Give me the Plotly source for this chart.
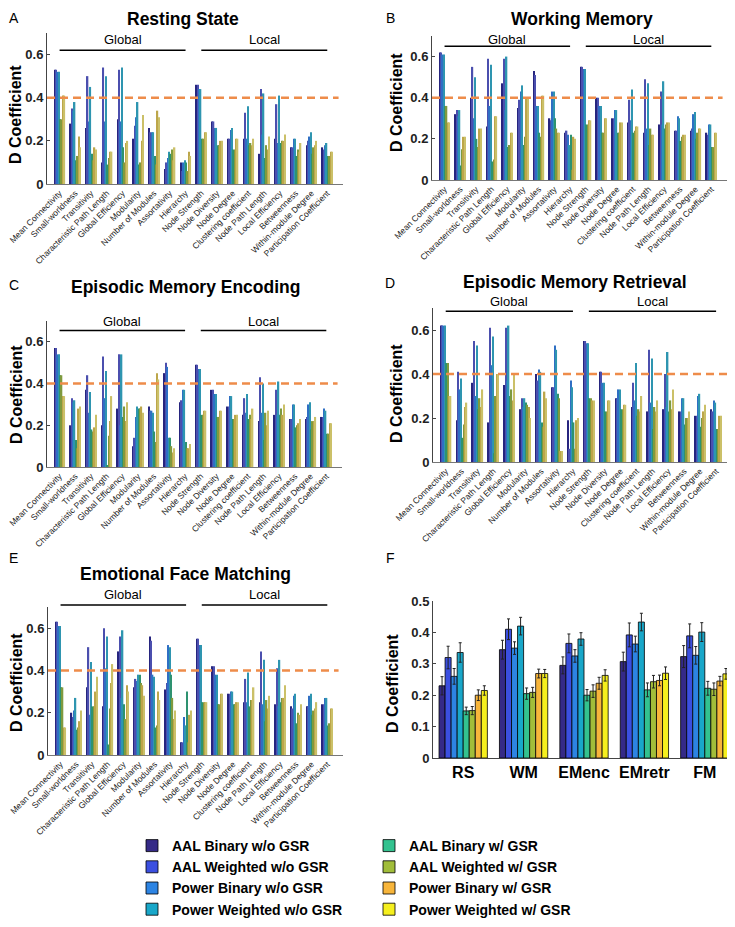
import plotly.graph_objects as go

W, H = 735, 927
# the page body keeps its default 8px margin, so the figure is drawn 8px in from the corner
OX, OY = 8, 8
FW, FH = W - OX, H - OY

metrics = ['Mean Connectivity', 'Small-worldness', 'Transitivity', 'Characteristic Path Length',
           'Global Efficiency', 'Modularity', 'Number of Modules', 'Assortativity', 'Hierarchy',
           'Node Strength', 'Node Diversity', 'Node Degree', 'Clustering coefficient',
           'Node Path Length', 'Local Efficiency', 'Betweenness', 'Within-module Degree',
           'Participation Coefficient']
n_global = 9

series = ['AAL Binary w/o GSR', 'AAL Weighted w/o GSR', 'Power Binary w/o GSR', 'Power Weighted w/o GSR',
          'AAL Binary w/ GSR', 'AAL Weighted w/ GSR', 'Power Binary w/ GSR', 'Power Weighted w/ GSR']

# one row per metric, 8 values per row (series order as above)
rs_values = [
    [0.53, 0.53, 0.52, 0.52, 0.30, 0.30, 0.41, 0.41],
    [0.28, 0.35, 0.34, 0.38, 0.11, 0.13, 0.22, 0.17],
    [0.26, 0.50, 0.29, 0.45, 0.14, 0.11, 0.17, 0.16],
    [0.10, 0.54, 0.29, 0.50, 0.09, 0.12, 0.15, 0.15],
    [0.30, 0.53, 0.29, 0.54, 0.17, 0.10, 0.19, 0.20],
    [0.21, 0.27, 0.31, 0.38, 0.09, 0.10, 0.20, 0.32],
    [0.26, 0.24, 0.24, 0.24, 0.13, 0.09, 0.34, 0.31],
    [0.07, 0.10, 0.12, 0.15, 0.14, 0.16, 0.11, 0.17],
    [0.10, 0.06, 0.10, 0.11, 0.10, 0.06, 0.15, 0.13],
    [0.46, 0.46, 0.44, 0.44, 0.21, 0.21, 0.24, 0.24],
    [0.29, 0.29, 0.26, 0.26, 0.18, 0.18, 0.20, 0.20],
    [0.21, 0.21, 0.25, 0.26, 0.16, 0.16, 0.21, 0.21],
    [0.21, 0.33, 0.21, 0.36, 0.18, 0.19, 0.18, 0.21],
    [0.14, 0.44, 0.23, 0.42, 0.12, 0.18, 0.16, 0.22],
    [0.21, 0.37, 0.19, 0.41, 0.19, 0.20, 0.20, 0.23],
    [0.17, 0.17, 0.21, 0.21, 0.13, 0.16, 0.15, 0.19],
    [0.18, 0.20, 0.22, 0.24, 0.14, 0.17, 0.18, 0.20],
    [0.17, 0.16, 0.18, 0.19, 0.13, 0.13, 0.15, 0.15],
]

wm_values = [
    [0.62, 0.62, 0.61, 0.61, 0.36, 0.36, 0.28, 0.28],
    [0.32, 0.34, 0.31, 0.34, 0.07, 0.15, 0.21, 0.21],
    [0.40, 0.55, 0.30, 0.50, 0.20, 0.16, 0.25, 0.25],
    [0.26, 0.59, 0.36, 0.56, 0.09, 0.10, 0.31, 0.31],
    [0.47, 0.59, 0.34, 0.60, 0.16, 0.17, 0.23, 0.23],
    [0.35, 0.39, 0.43, 0.46, 0.17, 0.21, 0.40, 0.40],
    [0.53, 0.51, 0.36, 0.36, 0.23, 0.21, 0.41, 0.41],
    [0.30, 0.29, 0.43, 0.43, 0.30, 0.25, 0.23, 0.23],
    [0.23, 0.24, 0.22, 0.17, 0.22, 0.05, 0.21, 0.20],
    [0.55, 0.55, 0.54, 0.54, 0.27, 0.27, 0.29, 0.29],
    [0.40, 0.40, 0.36, 0.36, 0.23, 0.23, 0.30, 0.30],
    [0.30, 0.30, 0.34, 0.34, 0.23, 0.23, 0.28, 0.28],
    [0.28, 0.39, 0.29, 0.44, 0.23, 0.24, 0.26, 0.26],
    [0.23, 0.49, 0.25, 0.47, 0.17, 0.25, 0.22, 0.22],
    [0.27, 0.43, 0.27, 0.48, 0.25, 0.27, 0.28, 0.28],
    [0.24, 0.24, 0.31, 0.30, 0.19, 0.21, 0.22, 0.22],
    [0.24, 0.25, 0.32, 0.33, 0.20, 0.23, 0.25, 0.25],
    [0.23, 0.22, 0.27, 0.27, 0.16, 0.16, 0.23, 0.23],
]

emenc_values = [
    [0.57, 0.57, 0.54, 0.54, 0.44, 0.44, 0.34, 0.34],
    [0.20, 0.33, 0.31, 0.32, 0.13, 0.09, 0.28, 0.29],
    [0.37, 0.44, 0.26, 0.36, 0.18, 0.17, 0.19, 0.25],
    [0.20, 0.53, 0.33, 0.46, 0.01, 0.15, 0.22, 0.34],
    [0.28, 0.54, 0.20, 0.54, 0.24, 0.29, 0.22, 0.31],
    [0.10, 0.14, 0.24, 0.29, 0.28, 0.28, 0.29, 0.26],
    [0.29, 0.27, 0.27, 0.26, 0.17, 0.12, 0.45, 0.42],
    [0.45, 0.50, 0.48, 0.14, 0.14, 0.10, 0.07, 0.09],
    [0.31, 0.32, 0.37, 0.37, 0.12, 0.09, 0.09, 0.11],
    [0.49, 0.49, 0.47, 0.47, 0.25, 0.25, 0.27, 0.27],
    [0.37, 0.37, 0.35, 0.35, 0.24, 0.24, 0.27, 0.27],
    [0.29, 0.29, 0.34, 0.34, 0.23, 0.23, 0.25, 0.25],
    [0.25, 0.33, 0.26, 0.35, 0.23, 0.25, 0.23, 0.28],
    [0.22, 0.43, 0.26, 0.40, 0.13, 0.26, 0.20, 0.27],
    [0.25, 0.37, 0.25, 0.41, 0.25, 0.28, 0.25, 0.30],
    [0.23, 0.23, 0.30, 0.30, 0.19, 0.20, 0.21, 0.23],
    [0.23, 0.24, 0.30, 0.31, 0.18, 0.22, 0.22, 0.24],
    [0.24, 0.24, 0.28, 0.27, 0.16, 0.16, 0.21, 0.21],
]

emretr_values = [
    [0.62, 0.62, 0.62, 0.62, 0.45, 0.45, 0.30, 0.30],
    [0.19, 0.41, 0.33, 0.38, 0.11, 0.17, 0.25, 0.27],
    [0.36, 0.55, 0.30, 0.53, 0.24, 0.29, 0.25, 0.33],
    [0.18, 0.61, 0.44, 0.57, 0.04, 0.30, 0.40, 0.40],
    [0.35, 0.61, 0.37, 0.62, 0.30, 0.33, 0.28, 0.40],
    [0.24, 0.29, 0.25, 0.29, 0.27, 0.26, 0.25, 0.20],
    [0.40, 0.37, 0.42, 0.41, 0.18, 0.16, 0.32, 0.29],
    [0.34, 0.34, 0.53, 0.51, 0.31, 0.29, 0.05, 0.05],
    [0.19, 0.06, 0.37, 0.34, 0.18, 0.06, 0.19, 0.20],
    [0.55, 0.55, 0.54, 0.54, 0.29, 0.29, 0.28, 0.28],
    [0.41, 0.41, 0.36, 0.36, 0.23, 0.23, 0.28, 0.28],
    [0.29, 0.29, 0.33, 0.33, 0.24, 0.24, 0.26, 0.26],
    [0.25, 0.36, 0.28, 0.45, 0.21, 0.24, 0.23, 0.30],
    [0.23, 0.51, 0.27, 0.47, 0.15, 0.25, 0.23, 0.28],
    [0.24, 0.40, 0.25, 0.50, 0.23, 0.28, 0.24, 0.33],
    [0.23, 0.23, 0.29, 0.29, 0.17, 0.20, 0.20, 0.23],
    [0.21, 0.21, 0.30, 0.31, 0.16, 0.20, 0.23, 0.26],
    [0.24, 0.23, 0.28, 0.27, 0.15, 0.15, 0.21, 0.21],
]

fm_values = [
    [0.63, 0.63, 0.61, 0.61, 0.32, 0.32, 0.13, 0.13],
    [0.20, 0.18, 0.21, 0.27, 0.12, 0.13, 0.16, 0.21],
    [0.32, 0.51, 0.19, 0.44, 0.23, 0.23, 0.30, 0.37],
    [0.23, 0.60, 0.41, 0.56, 0.05, 0.22, 0.34, 0.43],
    [0.49, 0.56, 0.27, 0.59, 0.24, 0.17, 0.33, 0.30],
    [0.32, 0.36, 0.35, 0.38, 0.38, 0.34, 0.33, 0.28],
    [0.56, 0.54, 0.38, 0.37, 0.13, 0.14, 0.30, 0.26],
    [0.31, 0.34, 0.52, 0.51, 0.38, 0.27, 0.17, 0.21],
    [0.06, 0.06, 0.18, 0.14, 0.30, 0.06, 0.19, 0.21],
    [0.55, 0.55, 0.52, 0.52, 0.25, 0.25, 0.25, 0.25],
    [0.42, 0.42, 0.38, 0.38, 0.24, 0.24, 0.29, 0.29],
    [0.29, 0.29, 0.30, 0.30, 0.24, 0.24, 0.25, 0.25],
    [0.25, 0.36, 0.25, 0.39, 0.23, 0.26, 0.26, 0.32],
    [0.25, 0.49, 0.24, 0.45, 0.16, 0.26, 0.22, 0.28],
    [0.24, 0.41, 0.23, 0.45, 0.25, 0.27, 0.27, 0.33],
    [0.23, 0.22, 0.28, 0.29, 0.15, 0.20, 0.19, 0.24],
    [0.23, 0.23, 0.28, 0.29, 0.19, 0.21, 0.22, 0.25],
    [0.24, 0.24, 0.27, 0.27, 0.14, 0.15, 0.22, 0.22],
]

tasks = ['RS', 'WM', 'EMenc', 'EMretr', 'FM']
# mean D coefficient per task (rows) and series (columns)
task_means = [
    [0.230, 0.320, 0.260, 0.336, 0.150, 0.151, 0.200, 0.215],
    [0.345, 0.410, 0.350, 0.420, 0.205, 0.209, 0.269, 0.269],
    [0.295, 0.365, 0.325, 0.379, 0.200, 0.213, 0.238, 0.263],
    [0.307, 0.392, 0.363, 0.433, 0.217, 0.243, 0.247, 0.270],
    [0.323, 0.389, 0.327, 0.401, 0.222, 0.219, 0.245, 0.268],
]
task_errors = [
    [0.029, 0.036, 0.025, 0.031, 0.012, 0.013, 0.017, 0.015],
    [0.030, 0.033, 0.020, 0.028, 0.018, 0.016, 0.014, 0.013],
    [0.027, 0.030, 0.020, 0.020, 0.018, 0.020, 0.019, 0.018],
    [0.030, 0.038, 0.025, 0.028, 0.022, 0.020, 0.017, 0.020],
    [0.035, 0.038, 0.028, 0.030, 0.022, 0.020, 0.015, 0.017],
]

threshold = 0.4
y_top = 0.7

vivid = ['#352a87', '#3b4fe0', '#2d84e3', '#19a7c9', '#33c28f', '#a1bd3a', '#f7b53b', '#f5ef1e']
muted = ['#27257f', '#4b4fae', '#2f6fc4', '#2e95b0', '#2e9270', '#7f9a3e', '#bca64a', '#cbc068']

FONT = 'Liberation Sans, Arial, sans-serif'


def px(x):
    return (x - OX) / FW


def py(y):
    return 1 - (y - OY) / FH


def dom_x(x0, x1):
    return [px(x0), px(x1)]


def dom_y(top, bottom):
    return [py(bottom), py(top)]


def paper_text(text, x, y, size, bold=False, angle=0):
    return dict(text=text, xref='paper', yref='paper', x=px(x), y=py(y),
                xanchor='center', yanchor='middle', showarrow=False, textangle=angle, borderpad=0,
                font=dict(size=size, family=FONT, color='black', weight='bold' if bold else 'normal'))


# letter, title, values, plot box (l, r, t, b), title pos, letter pos, ytitle pos, group line y, group label y
panels = [
    ('A', 'Resting State', rs_values, (47, 343, 33, 184), (183, 19), (14, 18), (16, 115), 0.62, 0.67),
    ('B', 'Working Memory', wm_values, (432, 727, 36, 180), (582, 19), (390, 18), (396, 103), 0.65, 0.685),
    ('C', 'Episodic Memory Encoding', emenc_values, (47, 342, 321, 467), (185, 287), (14, 285), (16, 395), 0.655, 0.70),
    ('D', 'Episodic Memory Retrieval', emretr_values, (433, 732, 308, 462), (575, 282), (390, 283), (396, 394), 0.685, 0.73),
    ('E', 'Emotional Face Matching', fm_values, (48, 343, 607, 755), (185, 574), (14, 558), (16, 683), 0.709, 0.757),
]

fig = go.Figure()
annotations = []
shapes = []
layout_axes = {}

for k, (letter, title, values, box, tpos, lpos, ypos, line_y, label_y) in enumerate(panels):
    ax = k + 1
    xname = 'x' if ax == 1 else f'x{ax}'
    yname = 'y' if ax == 1 else f'y{ax}'
    for s in range(len(series)):
        fig.add_trace(go.Bar(
            x=metrics, y=[row[s] for row in values],
            marker=dict(color=muted[s], line=dict(width=0)),
            showlegend=False, xaxis=xname, yaxis=yname, name=series[s]))
    l, r, t, b = box
    layout_axes['xaxis' if ax == 1 else f'xaxis{ax}'] = dict(
        domain=dom_x(l, r), anchor=yname, type='category', range=[-0.8, len(metrics)],
        tickangle=-45, tickfont=dict(size=8.5, family=FONT, color='#222'), automargin=False,
        showline=True, linecolor='#777', linewidth=1, ticks='', showgrid=False, zeroline=False)
    layout_axes['yaxis' if ax == 1 else f'yaxis{ax}'] = dict(
        domain=dom_y(t, b), anchor=xname, range=[0, y_top], tickvals=[0, 0.2, 0.4, 0.6],
        ticktext=['0', '0.2', '0.4', '0.6'], automargin=False,
        tickfont=dict(size=13, family=FONT, color='#222', weight='bold'),
        showline=True, linecolor='#444', linewidth=1, ticks='inside', ticklen=3, tickcolor='#444',
        showgrid=False, zeroline=False)
    # threshold line
    shapes.append(dict(type='line', xref=f'{xname} domain', yref=yname, x0=0, x1=0.985,
                       y0=threshold, y1=threshold, line=dict(color='#ee8c4a', width=2.5, dash='8px,5px')))
    # Global / Local brackets
    for name, i0, i1 in [('Global', 0, n_global - 1), ('Local', n_global, len(metrics) - 1)]:
        shapes.append(dict(type='line', xref=xname, yref=f'{yname} domain', x0=i0, x1=i1,
                           y0=line_y / y_top, y1=line_y / y_top, line=dict(color='black', width=1.5)))
        annotations.append(dict(text=name, xref=xname, yref=f'{yname} domain', x=(i0 + i1) / 2,
                                y=label_y / y_top, xanchor='center', yanchor='middle', showarrow=False,
                                borderpad=0, font=dict(size=13, family=FONT, color='black')))
    annotations.append(paper_text(title, tpos[0], tpos[1], 17.5, bold=True))
    annotations.append(paper_text(letter, lpos[0], lpos[1], 14))
    annotations.append(paper_text('D Coefficient', ypos[0], ypos[1], 16, bold=True, angle=-90))

# panel F: average over metrics with error bars
for s in range(len(series)):
    fig.add_trace(go.Bar(
        x=tasks, y=[row[s] for row in task_means],
        error_y=dict(type='data', array=[row[s] for row in task_errors], color='#222', thickness=1, width=1.5),
        marker=dict(color=vivid[s], line=dict(color='black', width=0.8)),
        width=0.1, offset=-0.4 + 0.1 * s,
        name=series[s], legend='legend' if s < 4 else 'legend2',
        xaxis='x6', yaxis='y6'))

layout_axes['xaxis6'] = dict(
    domain=dom_x(433, 735), anchor='y6', range=[-0.5, len(tasks) - 0.5], automargin=False,
    tickfont=dict(size=16, family=FONT, color='black', weight='bold'),
    showline=True, linecolor='#444', linewidth=1, ticks='', showgrid=False, zeroline=False)
layout_axes['yaxis6'] = dict(
    domain=dom_y(601, 758), anchor='x6', range=[0, 0.5], automargin=False,
    tickvals=[0, 0.1, 0.2, 0.3, 0.4, 0.5], ticktext=['0', '0.1', '0.2', '0.3', '0.4', '0.5'],
    tickfont=dict(size=13, family=FONT, color='#222', weight='bold'),
    showline=True, linecolor='#444', linewidth=1, ticks='inside', ticklen=3, tickcolor='#444',
    showgrid=False, zeroline=False)
annotations.append(paper_text('F', 390, 558, 14))
annotations.append(paper_text('D Coefficient', 392, 683, 16, bold=True, angle=-90))

legend_style = dict(yanchor='top', xanchor='left', bgcolor='rgba(0,0,0,0)', tracegroupgap=0,
                    font=dict(size=14, family=FONT, color='black', weight='bold'))

fig.update_layout(
    width=FW, height=FH,
    margin=dict(l=0, r=0, t=0, b=0, autoexpand=False),
    paper_bgcolor='white', plot_bgcolor='white',
    barmode='group', bargap=0.3, bargroupgap=0,
    annotations=annotations, shapes=shapes,
    legend=dict(x=px(132), y=py(830), **legend_style),
    legend2=dict(x=px(369), y=py(830), **legend_style),
    **layout_axes,
)

fig.write_html("out.html")
